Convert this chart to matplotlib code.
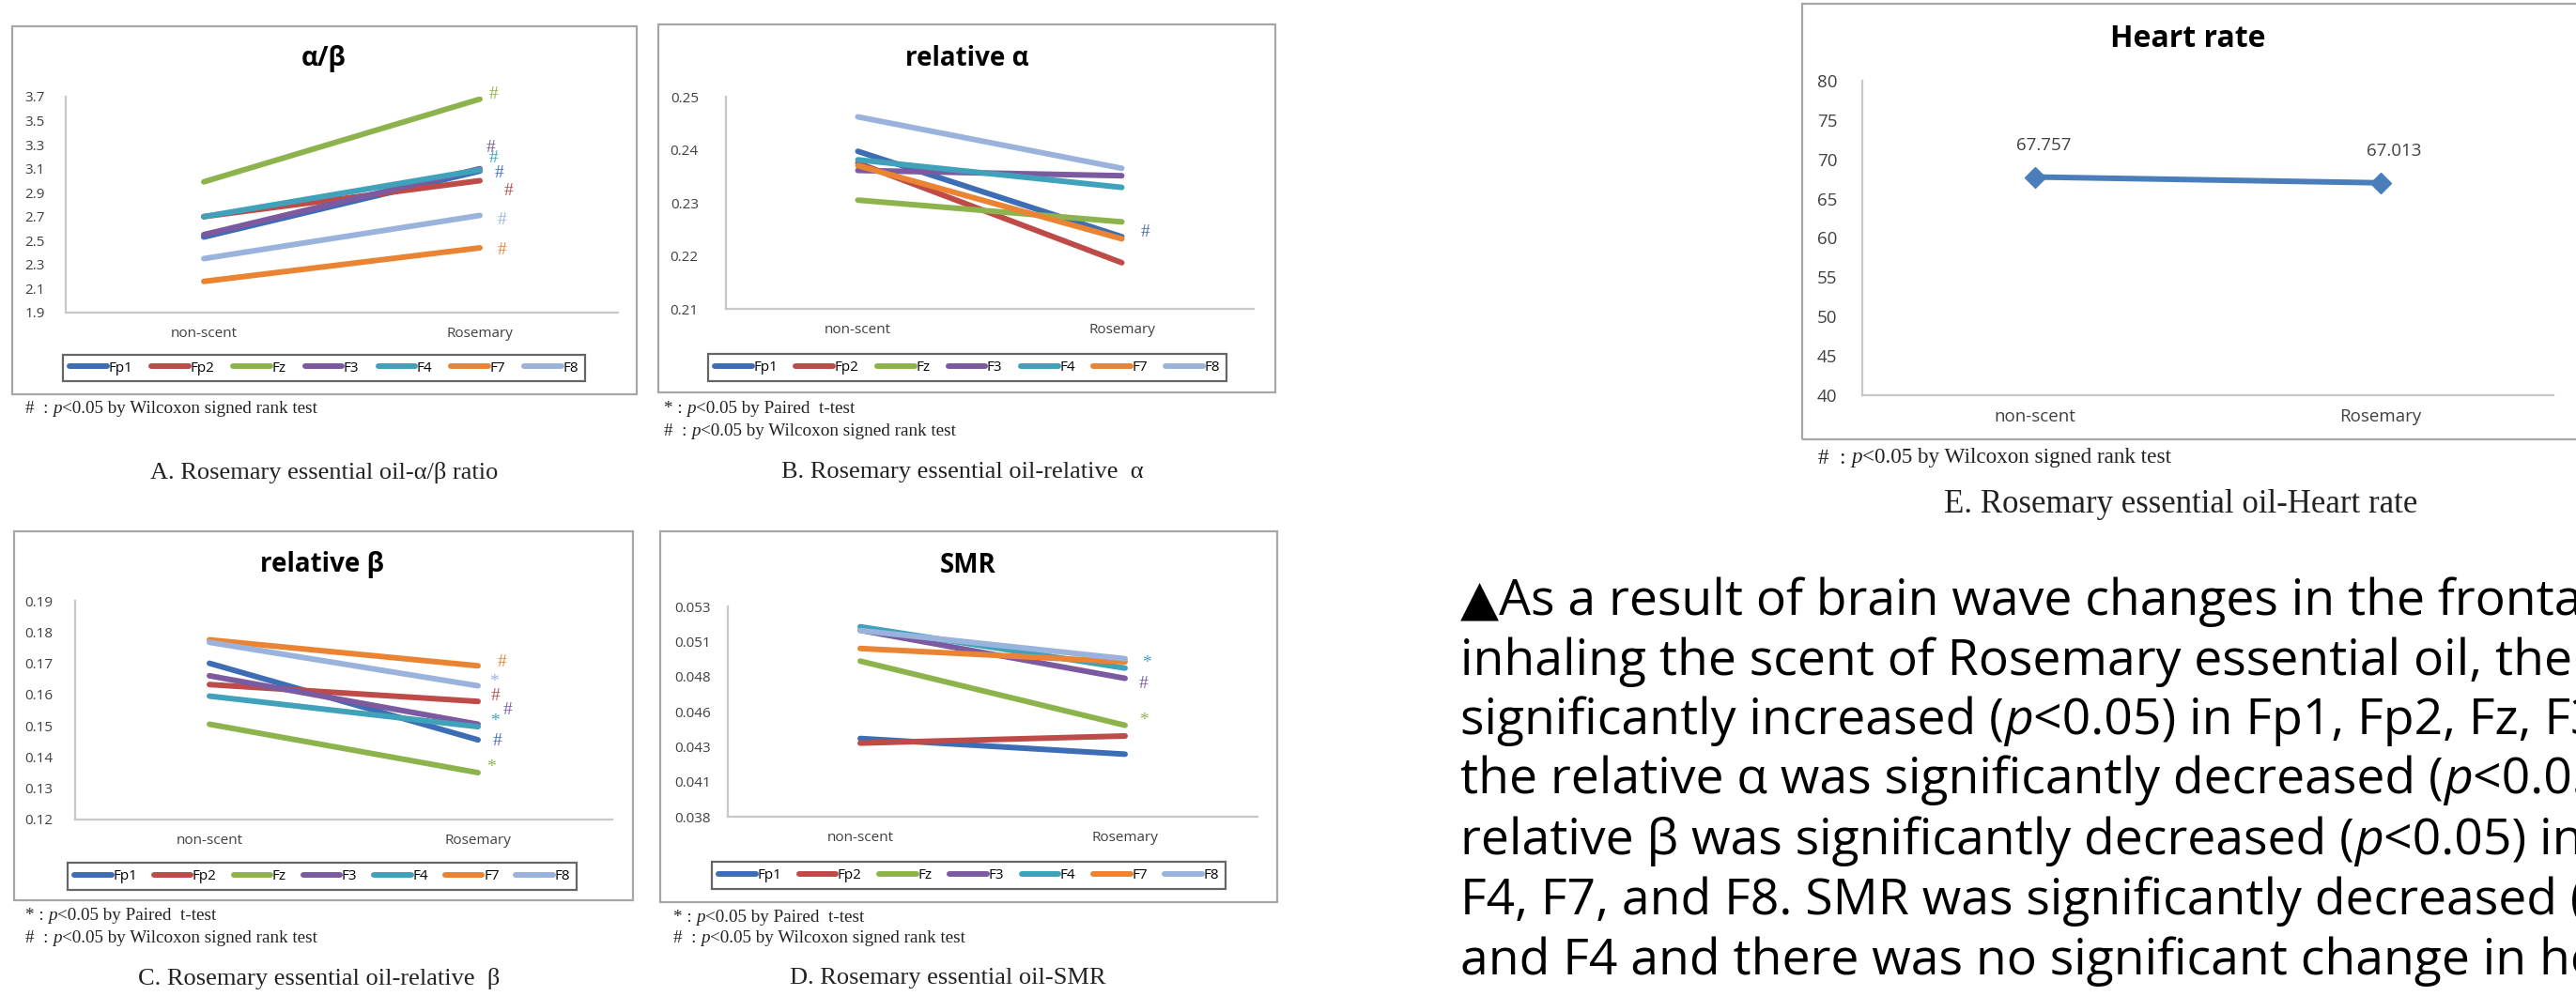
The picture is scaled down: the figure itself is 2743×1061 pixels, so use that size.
import matplotlib
matplotlib.use("Agg")
import matplotlib.pyplot as plt
from matplotlib.patches import Rectangle
from matplotlib.lines import Line2D

plt.rcParams['font.family'] = ['Open Sans', 'DejaVu Sans']

W, H = 2743, 1061

# ---- data ----
categories = ['non-scent', 'Rosemary']
channels = ['Fp1', 'Fp2', 'Fz', 'F3', 'F4', 'F7', 'F8']
colors = ['#3D6DB5', '#BE4B48', '#8DB44C', '#7B5AA0', '#3FA2BA', '#EB8432', '#9AB3DC']

ab_nonscent = [2.53, 2.70, 2.99, 2.55, 2.70, 2.16, 2.35]
ab_rosemary = [3.08, 3.00, 3.68, 3.10, 3.09, 2.44, 2.71]

ra_nonscent = [0.2397, 0.2375, 0.2305, 0.2361, 0.2381, 0.2370, 0.2462]
ra_rosemary = [0.2236, 0.2187, 0.2264, 0.2351, 0.2329, 0.2232, 0.2365]

rb_nonscent = [0.1700, 0.1632, 0.1505, 0.1660, 0.1595, 0.1775, 0.1767]
rb_rosemary = [0.1455, 0.1578, 0.1350, 0.1505, 0.1497, 0.1692, 0.1628]

smr_nonscent = [0.04358, 0.04325, 0.0491, 0.0513, 0.05155, 0.0500, 0.05128]
smr_rosemary = [0.04246, 0.04376, 0.04452, 0.04787, 0.0486, 0.04905, 0.04927]

hr_values = [67.757, 67.013]

# significance marks: (channel, symbol, x offset from Rosemary, y)
ab_marks = [('Fz', '#', 0.05, 3.716), ('F3', '#', 0.04, 3.277), ('F4', '#', 0.05, 3.19),
            ('Fp1', '#', 0.07, 3.065), ('Fp2', '#', 0.105, 2.91), ('F8', '#', 0.08, 2.67),
            ('F7', '#', 0.08, 2.42)]
ra_marks = [('Fp1', '#', 0.09, 0.2245)]
rb_marks = [('F7', '#', 0.09, 0.1702), ('F8', '*', 0.06, 0.1640), ('Fp2', '#', 0.066, 0.1594),
            ('F3', '#', 0.11, 0.1549), ('F4', '*', 0.063, 0.1514), ('Fp1', '#', 0.07, 0.1450),
            ('Fz', '*', 0.05, 0.1367)]
smr_marks = [('F4', '*', 0.08, 0.04895), ('F3', '#', 0.07, 0.0475), ('Fz', '*', 0.07, 0.04486)]

ab_ticks = [1.9, 2.1, 2.3, 2.5, 2.7, 2.9, 3.1, 3.3, 3.5, 3.7]
ra_ticks = [0.21, 0.22, 0.23, 0.24, 0.25]
rb_ticks = [0.12, 0.13, 0.14, 0.15, 0.16, 0.17, 0.18, 0.19]
smr_ticks = [0.038, 0.0405, 0.043, 0.0455, 0.048, 0.0505, 0.053]
smr_ticklabels = ['0.038', '0.041', '0.043', '0.046', '0.048', '0.051', '0.053']
hr_ticks = [40, 45, 50, 55, 60, 65, 70, 75, 80]

fig = plt.figure(figsize=(W / 100, H / 100), dpi=100)
fig.patch.set_facecolor('white')


def fx(x):
    return x / W


def fy(y):
    return 1 - y / H


def frame(x0, y0, x1, y1, ec='#A6A6A6', lw=1.6):
    fig.patches.append(Rectangle((fx(x0), fy(y1)), fx(x1 - x0), (y1 - y0) / H,
                                 transform=fig.transFigure, fill=False, ec=ec, lw=lw))


def add_ax(x0, y0, x1, y1):
    ax = fig.add_axes([fx(x0), fy(y1), fx(x1 - x0), (y1 - y0) / H])
    for s in ['top', 'right']:
        ax.spines[s].set_visible(False)
    for s in ['left', 'bottom']:
        ax.spines[s].set_color('#C8C8C8')
        ax.spines[s].set_linewidth(1.6)
    ax.tick_params(length=0)
    ax.set_xlim(-0.5, 1.5)
    ax.set_xticks([0, 1])
    return ax


def runs(x, y, parts, **kw):
    # draw text pieces one after another so that "p" can be italic
    r = fig.canvas.get_renderer()
    xf = fx(x)
    for s, st in parts:
        t = fig.text(xf, fy(y), s, style=st, **kw)
        xf += t.get_window_extent(renderer=r).width / W


serif = 'Liberation Serif'


def eeg_panel(box, axbox, title, tpos, nons, rose, ticks, ticklabels, marks, legbox, ypad):
    frame(*box)
    ax = add_ax(*axbox)
    for i, ch in enumerate(channels):
        ax.plot([0, 1], [nons[i], rose[i]], color=colors[i], lw=4.3,
                solid_capstyle='round')
    ax.set_ylim(ticks[0], ticks[-1])
    ax.set_yticks(ticks)
    ax.set_yticklabels(ticklabels, fontsize=11, color='#404040')
    ax.set_xticklabels(categories, fontsize=11, color='#404040')
    ax.tick_params(axis='y', pad=ypad)
    ax.tick_params(axis='x', pad=11)
    for ch, sym, dx, yv in marks:
        ax.text(1 + dx, yv, sym, color=colors[channels.index(ch)], fontsize=14,
                family=serif, ha='center', va='center', clip_on=False)
    fig.text(fx(tpos[0]), fy(tpos[1]), title, fontsize=20, fontweight='bold',
             ha='center', va='center')
    handles = [Line2D([], [], color=c, lw=4.3, solid_capstyle='round') for c in colors]
    x0, y0, x1, y1 = legbox
    leg = fig.legend(handles, channels, ncol=7, mode='expand', loc='center',
                     bbox_to_anchor=(fx(x0), fy(y1), fx(x1 - x0), (y1 - y0) / H),
                     fontsize=11, handlelength=2.6, handletextpad=0.1,
                     columnspacing=0.6, borderpad=0.45, fancybox=False,
                     borderaxespad=0)
    leg.get_frame().set_edgecolor('#404040')
    leg.get_frame().set_linewidth(1.6)
    return ax


eeg_panel((13, 28, 678, 420), (70, 103, 658, 333), 'α/β', (345, 63),
          ab_nonscent, ab_rosemary, ab_ticks, [f'{t:.1f}' for t in ab_ticks],
          ab_marks, (67, 376, 623, 408), 16)
eeg_panel((701, 26, 1358, 418), (773, 103, 1335, 329), 'relative α', (1030, 63),
          ra_nonscent, ra_rosemary, ra_ticks, [f'{t:.2f}' for t in ra_ticks],
          ra_marks, (754, 375, 1306, 408), 21)
eeg_panel((15, 566, 674, 959), (80, 640, 652, 873), 'relative β', (343, 602),
          rb_nonscent, rb_rosemary, rb_ticks, [f'{t:.2f}' for t in rb_ticks],
          rb_marks, (72, 918, 614, 949), 17)
eeg_panel((703, 566, 1360, 961), (775, 646, 1339, 870), 'SMR', (1031, 602),
          smr_nonscent, smr_rosemary, smr_ticks, smr_ticklabels,
          smr_marks, (758, 916, 1305, 949), 13)

# ---- heart rate panel ----
frame(1919, 4, 2765, 468)
axe = add_ax(1983, 86, 2719, 421)
axe.plot([0, 1], hr_values, color='#4A7EBB', lw=4.3, marker='D', ms=11)
axe.set_ylim(hr_ticks[0], hr_ticks[-1])
axe.set_yticks(hr_ticks)
axe.set_yticklabels([str(t) for t in hr_ticks], fontsize=13.5, color='#404040')
axe.set_xticklabels(categories, fontsize=13.5, color='#404040')
axe.tick_params(axis='y', pad=19)
axe.tick_params(axis='x', pad=10)
for i, v in enumerate(hr_values):
    axe.annotate(f'{v:.3f}', (i, v), xytext=(10 - 3 * (1 - i), 24), textcoords='offset points',
                 ha='center', va='center', fontsize=13.5, color='#404040')
fig.text(fx(2330), fy(41), 'Heart rate', fontsize=23, fontweight='bold',
         ha='center', va='center')

# ---- footnotes and captions ----
fn = dict(family=serif, fontsize=13.8, va='center', color='#222222')
wilcoxon = [('#  : ', 'normal'), ('p', 'italic'), ('<0.05 by Wilcoxon signed rank test', 'normal')]
paired = [('* : ', 'normal'), ('p', 'italic'), ('<0.05 by Paired  t-test', 'normal')]
runs(27, 435, wilcoxon, **fn)
runs(707, 435, paired, **fn)
runs(707, 460, wilcoxon, **fn)
runs(27, 975, paired, **fn)
runs(27, 1000, wilcoxon, **fn)
runs(717, 977, paired, **fn)
runs(717, 999, wilcoxon, **fn)
runs(1936, 488, wilcoxon, family=serif, fontsize=16.7, va='center', color='#222222')

cap = dict(family=serif, fontsize=19, ha='center', va='center', color='#222222')
fig.text(fx(345), fy(503), 'A. Rosemary essential oil-α/β ratio', **cap)
fig.text(fx(1025), fy(503), 'B. Rosemary essential oil-relative  α', **cap)
fig.text(fx(340), fy(1043), 'C. Rosemary essential oil-relative  β', **cap)
fig.text(fx(1009), fy(1042), 'D. Rosemary essential oil-SMR', **cap)
fig.text(fx(2322), fy(537), 'E. Rosemary essential oil-Heart rate', family=serif,
         fontsize=25, ha='center', va='center', color='#222222')

# ---- summary paragraph ----
para = [
    [('▲As a result of brain wave changes in the frontal lobe after', 'normal')],
    [('inhaling the scent of Rosemary essential oil, the α/β ratio was', 'normal')],
    [('significantly increased (', 'normal'), ('p', 'italic'),
     ('<0.05) in Fp1, Fp2, Fz, F3, F4, F7, and F8, and', 'normal')],
    [('the relative α was significantly decreased (', 'normal'), ('p', 'italic'),
     ('<0.05) in Fp1, and the', 'normal')],
    [('relative β was significantly decreased (', 'normal'), ('p', 'italic'),
     ('<0.05) in Fp1, Fp2, Fz, F3,', 'normal')],
    [('F4, F7, and F8. SMR was significantly decreased (', 'normal'), ('p', 'italic'),
     ('<0.05) in Fz, F3,', 'normal')],
    [('and F4 and there was no significant change in heart rate.', 'normal')],
]
baselines = [655, 719, 782, 845, 910, 974, 1038]
for parts, b in zip(para, baselines):
    runs(1555, b, parts, fontsize=38.5, va='baseline', color='black')

fig.savefig('out.png', dpi=100, facecolor='white')
